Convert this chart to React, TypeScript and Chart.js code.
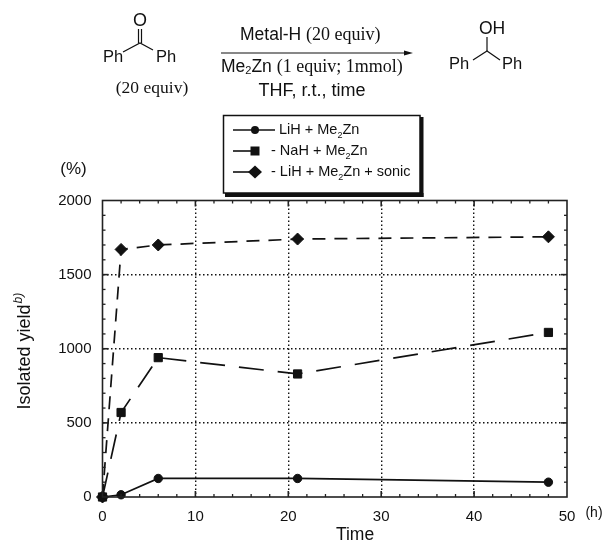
import React, { useEffect, useRef } from "react";
import { Chart, registerables } from "chart.js";

Chart.register(...registerables);

const hours = [0, 2, 6, 21, 48];
const lihValues = [0, 15, 125, 125, 100];
const nahValues = [0, 570, 940, 830, 1110];
const sonicValues = [0, 1670, 1700, 1740, 1755];
const xMinorTicks = [2, 4, 6, 8, 12, 14, 16, 18, 22, 24, 26, 28, 32, 34, 36, 38, 42, 44, 46, 48];
const yMinorTicks = [100, 200, 300, 400, 600, 700, 800, 900, 1100, 1200, 1300, 1400, 1600, 1700, 1800, 1900];
const xMajorInner = [10, 20, 30, 40];
const yMajorInner = [500, 1000, 1500];

const SANS = '"Liberation Sans", Arial, sans-serif';
const SERIF = '"Liberation Serif", serif';
const INK = "#111";

type Ctx = CanvasRenderingContext2D;

function put(c: Ctx, s: string, x: number, y: number, size = 15, font = SANS, align: CanvasTextAlign = "center", style = "") {
  c.font = `${style} ${size}px ${font}`;
  c.textAlign = align;
  c.textBaseline = "middle";
  c.fillStyle = INK;
  c.fillText(s, x, y);
  return c.measureText(s).width;
}

function run(c: Ctx, parts: [string, number, string, number?][], x: number, y: number) {
  let cx = x;
  for (const [s, size, font, dy] of parts) {
    cx += put(c, s, cx, y + (dy || 0), size, font, "left");
  }
}

function seg(c: Ctx, pts: number[], w = 1.2) {
  c.beginPath();
  c.lineWidth = w;
  c.strokeStyle = INK;
  c.setLineDash([]);
  c.moveTo(pts[0], pts[1]);
  for (let i = 2; i < pts.length; i += 2) c.lineTo(pts[i], pts[i + 1]);
  c.stroke();
}

const overlay = {
  id: "overlay",
  afterDatasetsDraw(chart: any) {
    const c: Ctx = chart.ctx;
    const { left, right, top, bottom } = chart.chartArea;
    const xs = chart.scales.x;
    const ys = chart.scales.y;
    c.save();

    // frame and inward ticks
    c.strokeStyle = "#222";
    c.lineWidth = 1.6;
    c.setLineDash([]);
    c.strokeRect(left, top, right - left, bottom - top);
    const tick = (x1: number, y1: number, x2: number, y2: number) => {
      c.beginPath();
      c.moveTo(x1, y1);
      c.lineTo(x2, y2);
      c.stroke();
    };
    c.lineWidth = 1.3;
    for (const v of xMinorTicks) {
      const p = xs.getPixelForValue(v);
      tick(p, top, p, top + 3);
      tick(p, bottom, p, bottom - 3);
    }
    for (const v of yMinorTicks) {
      const p = ys.getPixelForValue(v);
      tick(left, p, left + 3, p);
      tick(right, p, right - 3, p);
    }
    c.lineWidth = 1.6;
    for (const v of xMajorInner) {
      const p = xs.getPixelForValue(v);
      tick(p, top, p, top + 6);
      tick(p, bottom, p, bottom - 6);
    }
    for (const v of yMajorInner) {
      const p = ys.getPixelForValue(v);
      tick(left, p, left + 6, p);
      tick(right, p, right - 6, p);
    }

    // axis annotations
    put(c, "(%)", 73.5, 169, 17);
    put(c, "(h)", 594, 513, 14);
    put(c, "Time", 355, 535, 17.5);
    c.save();
    c.translate(25, 352);
    c.rotate(-Math.PI / 2);
    const w = put(c, "Isolated yield", -5, 0, 18);
    put(c, "b)", -5 + w / 2 + 1, -6, 12, SANS, "left", "italic");
    c.restore();

    // reaction scheme
    put(c, "O", 140, 21, 18);
    seg(c, [123, 52, 140, 43, 153, 50]);
    seg(c, [138.5, 29, 138.5, 43]);
    seg(c, [141.5, 29, 141.5, 43]);
    put(c, "Ph", 113, 57, 16.5);
    put(c, "Ph", 166, 57, 16.5);
    put(c, "(20 equiv)", 152, 88, 17.5, SERIF);

    run(c, [["Metal-H ", 17.5, SANS], ["(20 equiv)", 18, SERIF]], 240, 35);
    seg(c, [221, 53, 408, 53]);
    c.beginPath();
    c.moveTo(413, 53);
    c.lineTo(404, 50.5);
    c.lineTo(404, 55.5);
    c.closePath();
    c.fillStyle = INK;
    c.fill();
    run(
      c,
      [["Me", 17.5, SANS], ["2", 11, SANS, 4], ["Zn ", 17.5, SANS], ["(1 equiv; 1mmol)", 18, SERIF]],
      221,
      67
    );
    put(c, "THF, r.t., time", 312, 91, 18);

    put(c, "OH", 492, 29, 17.5);
    seg(c, [473, 60, 487, 51, 500, 60]);
    seg(c, [487, 37, 487, 51]);
    put(c, "Ph", 459, 64, 16.5);
    put(c, "Ph", 512, 64, 16.5);

    // legend box
    c.fillStyle = "#fff";
    c.fillRect(223, 115, 197, 78);
    c.fillStyle = "#111";
    c.fillRect(420, 117, 3.5, 80);
    c.fillRect(225, 193, 198.5, 4);
    c.strokeStyle = "#111";
    c.lineWidth = 1.5;
    c.strokeRect(223.5, 115.5, 196.5, 77.5);

    const ly = [130, 151, 172];
    const lineEnds = [275, 257, 257];
    const prefixes = ["", "- ", "- "];
    const tails = ["", "", " + sonic"];
    const names = ["LiH", "NaH", "LiH"];
    ly.forEach((y, i) => {
      seg(c, [233, y, lineEnds[i], y], 1.6);
      c.fillStyle = INK;
      c.beginPath();
      if (i === 0) c.arc(255, y, 4, 0, Math.PI * 2);
      if (i === 1) c.rect(250.5, y - 4.5, 9, 9);
      if (i === 2) {
        c.moveTo(248, y);
        c.lineTo(255, y - 6.5);
        c.lineTo(262, y);
        c.lineTo(255, y + 6.5);
        c.closePath();
      }
      c.fill();
      run(
        c,
        [
          [`${prefixes[i]}${names[i]} + Me`, 14.5, SANS],
          ["2", 9, SANS, 6],
          [`Zn${tails[i]}`, 14.5, SANS],
        ],
        i === 0 ? 279 : 271,
        y
      );
    });
    c.restore();
  },
};

export default function App() {
  const ref = useRef<HTMLCanvasElement>(null);
  useEffect(() => {
    const base = {
      borderColor: INK,
      backgroundColor: INK,
      pointBackgroundColor: INK,
      pointBorderColor: INK,
      borderWidth: 1.7,
      pointBorderWidth: 1,
      tension: 0,
      clip: false,
    };
    const chart = new Chart(ref.current!, {
      type: "line",
      data: {
        datasets: [
          {
            ...base,
            label: "LiH + Me2Zn",
            data: hours.map((x, i) => ({ x, y: lihValues[i] })),
            pointStyle: "circle",
            pointRadius: 4.2,
          },
          {
            ...base,
            label: "NaH + Me2Zn",
            data: hours.map((x, i) => ({ x, y: nahValues[i] })),
            pointStyle: "rect",
            pointRadius: 5.8,
            borderDash: [25, 14],
          },
          {
            ...base,
            label: "LiH + Me2Zn + sonic",
            data: hours.map((x, i) => ({ x, y: sonicValues[i] })),
            pointStyle: "rectRot",
            pointRadius: 6,
            borderDash: [13, 9],
          },
        ],
      },
      options: {
        animation: false,
        responsive: false,
        layout: { padding: { top: 200.5, right: 37, left: 0, bottom: 0 } },
        plugins: { legend: { display: false }, tooltip: { enabled: false } },
        scales: {
          x: {
            type: "linear",
            min: 0,
            max: 50,
            afterFit: (s: any) => {
              s.height = 45;
            },
            ticks: {
              stepSize: 10,
              maxRotation: 0,
              padding: 11,
              color: INK,
              font: { family: SANS, size: 15 },
              callback: (v: any) => String(v),
            },
            border: { display: false, dash: [1.5, 2.5] },
            grid: {
              drawTicks: false,
              color: "#111",
              lineWidth: (ctx: any) => (ctx.tick && (ctx.tick.value === 0 || ctx.tick.value === 50) ? 0 : 1.4),
            },
          },
          y: {
            min: 0,
            max: 2000,
            afterFit: (s: any) => {
              s.width = 102.5;
            },
            ticks: {
              stepSize: 500,
              padding: 11,
              color: INK,
              font: { family: SANS, size: 15 },
              callback: (v: any) => String(v),
            },
            border: { display: false, dash: [1.5, 2.5] },
            grid: {
              drawTicks: false,
              color: "#111",
              lineWidth: (ctx: any) => (ctx.tick && (ctx.tick.value === 0 || ctx.tick.value === 2000) ? 0 : 1.4),
            },
          },
        },
      },
      plugins: [overlay],
    } as any);
    return () => chart.destroy();
  }, []);
  return (
    <div style={{ position: "absolute", left: 0, top: 0, background: "#fff" }}>
      <canvas ref={ref} width={604} height={542} style={{ display: "block" }} />
    </div>
  );
}
